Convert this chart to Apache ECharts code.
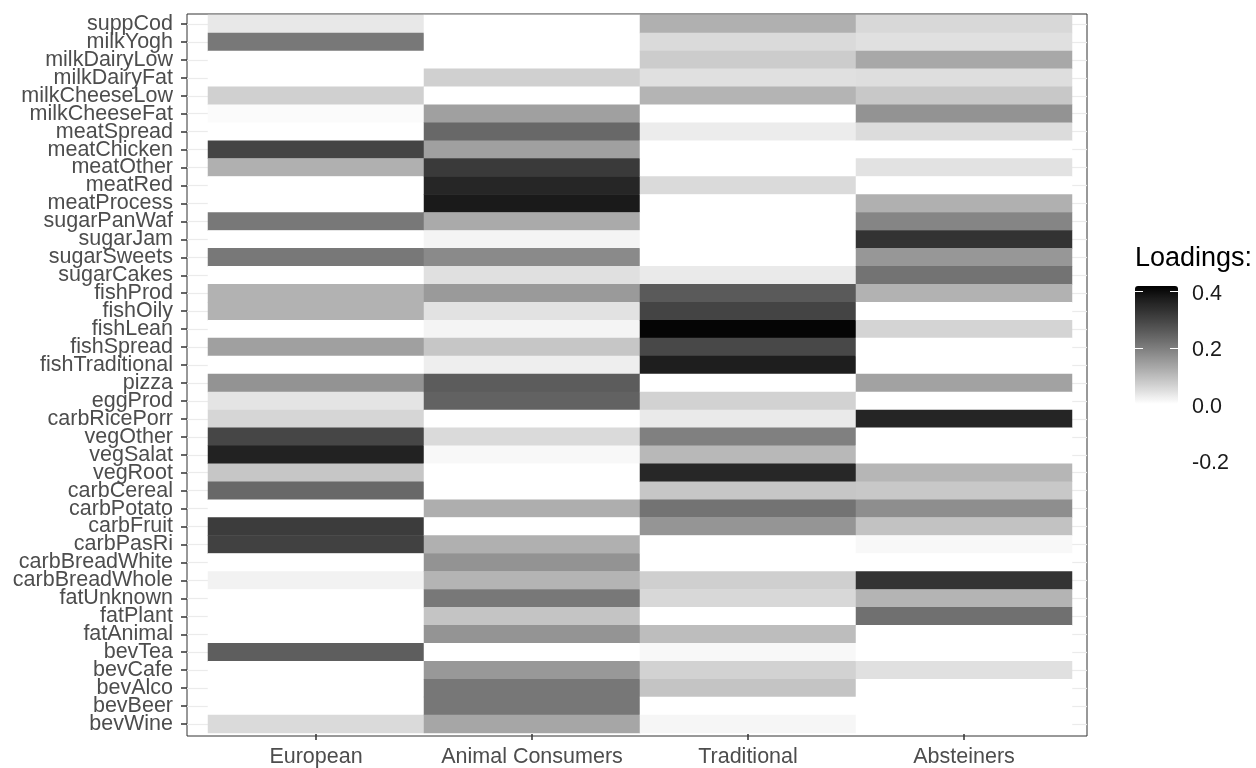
<!DOCTYPE html>
<html>
<head>
<meta charset="utf-8">
<title>Loadings heatmap</title>
<script src="https://cdn.jsdelivr.net/npm/echarts@6/dist/echarts.min.js"></script>
<style>
  html, body { margin: 0; padding: 0; background: #ffffff; }
  #chart { width: 1256px; height: 768px; }
</style>
</head>
<body>
<div id="chart"></div>
<script>
// patterns (columns) and food groups (rows, top to bottom)
var patterns = ['European', 'Animal Consumers', 'Traditional', 'Absteiners'];
var foods = ['suppCod', 'milkYogh', 'milkDairyLow', 'milkDairyFat', 'milkCheeseLow', 'milkCheeseFat',
    'meatSpread', 'meatChicken', 'meatOther', 'meatRed', 'meatProcess', 'sugarPanWaf', 'sugarJam',
    'sugarSweets', 'sugarCakes', 'fishProd', 'fishOily', 'fishLean', 'fishSpread', 'fishTraditional',
    'pizza', 'eggProd', 'carbRicePorr', 'vegOther', 'vegSalat', 'vegRoot', 'carbCereal', 'carbPotato',
    'carbFruit', 'carbPasRi', 'carbBreadWhite', 'carbBreadWhole', 'fatUnknown', 'fatPlant', 'fatAnimal',
    'bevTea', 'bevCafe', 'bevAlco', 'bevBeer', 'bevWine'];

// loadings (white cells read as 0)
var european = [0.033, 0.207, 0, 0, 0.069, 0.006, 0, 0.298, 0.117, 0, 0, 0.207, 0, 0.207, 0, 0.115, 0.115, 0, 0.143, 0,
    0.164, 0.039, 0.060, 0.294, 0.362, 0.084, 0.234, 0, 0.313, 0.303, 0, 0.019, 0, 0, 0, 0.251, 0, 0, 0, 0.054];
var animalConsumers = [0, 0, 0, 0.069, 0, 0.143, 0.234, 0.143, 0.316, 0.354, 0.378, 0.127, 0.016, 0.178, 0.045, 0.153, 0.042, 0.016, 0.084, 0.025,
    0.255, 0.244, 0, 0.054, 0.010, 0, 0, 0.121, 0, 0.117, 0.164, 0.112, 0.207, 0.087, 0.162, 0, 0.156, 0.209, 0.209, 0.133];
var traditional = [0.117, 0.054, 0.075, 0.045, 0.112, 0, 0.028, 0, 0, 0.054, 0, 0, 0, 0, 0.030, 0.258, 0.298, 0.410, 0.291, 0.370,
    0, 0.066, 0.030, 0.194, 0.105, 0.352, 0.084, 0.216, 0.161, 0, 0, 0.070, 0.057, 0, 0.097, 0.010, 0.066, 0.087, 0, 0.013];
var absteiners = [0.057, 0.045, 0.130, 0.048, 0.081, 0.164, 0.051, 0, 0.042, 0, 0.117, 0.187, 0.329, 0.158, 0.216, 0.115, 0, 0.063, 0, 0,
    0.140, 0, 0.356, 0, 0, 0.108, 0.081, 0.172, 0.090, 0.010, 0, 0.329, 0.112, 0.221, 0, 0, 0.045, 0, 0, 0];

var legendBreaks = [0.4, 0.2, 0.0, -0.2];

var FONT = '"Liberation Sans", Arial, Helvetica, sans-serif';
// white -> black, stepped evenly in lightness (like ggplot's Lab gradient)
var GRAYS = ['#ffffff', '#e2e2e2', '#c6c6c6', '#ababab', '#919191', '#777777', '#5e5e5e', '#474747', '#303030', '#1b1b1b', '#000000'];
var VM_MIN = 0, VM_MAX = 0.418;
var BAR_TOP = 286, BAR_H = 118, BAR_LEFT = 1135, BAR_W = 43;

var columns = [european, animalConsumers, traditional, absteiners];
var cells = [];
columns.forEach(function (col, x) {
    col.forEach(function (v, y) {
        cells.push([x, y, v]);
    });
});

function legendY(v) {
    return BAR_TOP + (VM_MAX - v) / (VM_MAX - VM_MIN) * BAR_H;
}

var legendGraphics = [];
legendBreaks.forEach(function (b) {
    legendGraphics.push({
        type: 'text',
        left: 1192,
        top: legendY(b) + 3 - 11,
        style: { text: b.toFixed(1), font: '21.5px ' + FONT, fill: '#1a1a1a' }
    });
    if (b <= VM_MAX && b >= VM_MIN + 0.05) {
        var y = Math.round(legendY(b)) + 0.5;
        legendGraphics.push({ type: 'line', shape: { x1: BAR_LEFT, y1: y, x2: BAR_LEFT + 8, y2: y }, style: { stroke: '#ffffff', lineWidth: 1 }, z: 10 });
        legendGraphics.push({ type: 'line', shape: { x1: BAR_LEFT + BAR_W - 8, y1: y, x2: BAR_LEFT + BAR_W, y2: y }, style: { stroke: '#ffffff', lineWidth: 1 }, z: 10 });
    }
});

var option = {
    animation: false,
    backgroundColor: '#ffffff',
    title: {
        text: 'Loadings:',
        left: 1135,
        top: 245,
        padding: 0,
        textStyle: { fontFamily: FONT, fontSize: 27, fontWeight: 'normal', color: '#000000' }
    },
    grid: [
        { left: 208, right: 184, top: 15, bottom: 33 },
        { left: 187, right: 169, top: 14, bottom: 32, show: true, borderColor: '#333333', borderWidth: 1, backgroundColor: 'transparent' }
    ],
    xAxis: [
        {
            type: 'category', gridIndex: 0, data: patterns, offset: 1,
            axisLine: { show: false },
            axisTick: { show: true, alignWithLabel: true, interval: 0, length: 6, lineStyle: { color: '#333333', width: 1.5 } },
            axisLabel: { interval: 0, margin: 12, fontFamily: FONT, fontSize: 21.5, color: '#4d4d4d' },
            splitLine: { show: false }
        },
        { type: 'value', gridIndex: 1, show: false }
    ],
    yAxis: [
        {
            type: 'category', gridIndex: 0, data: foods, inverse: true, offset: 21,
            axisLine: { show: false },
            axisTick: { show: true, alignWithLabel: true, interval: 0, length: 6, lineStyle: { color: '#333333', width: 1.5 } },
            axisLabel: { margin: 14, interval: 0, fontFamily: FONT, fontSize: 21.5, color: '#4d4d4d' },
            splitLine: { show: false }
        },
        {
            // grid line stubs left of the tiles
            type: 'category', gridIndex: 0, data: foods, inverse: true, position: 'left', offset: 0,
            axisLine: { show: false }, axisLabel: { show: false },
            axisTick: { show: true, alignWithLabel: true, length: 21, interval: 0, lineStyle: { color: '#ebebeb', width: 1.2 } }
        },
        {
            // grid line stubs right of the tiles
            type: 'category', gridIndex: 0, data: foods, inverse: true, position: 'right', offset: 0,
            axisLine: { show: false }, axisLabel: { show: false },
            axisTick: { show: true, alignWithLabel: true, length: 15, interval: 0, lineStyle: { color: '#ebebeb', width: 1.2 } }
        },
        { type: 'value', gridIndex: 1, show: false }
    ],
    visualMap: {
        type: 'continuous',
        min: VM_MIN,
        max: VM_MAX,
        dimension: 2,
        seriesIndex: 0,
        orient: 'vertical',
        left: BAR_LEFT,
        top: BAR_TOP,
        itemWidth: BAR_W,
        itemHeight: BAR_H,
        padding: 0,
        calculable: false,
        hoverLink: false,
        showLabel: false,
        text: null,
        inRange: { color: GRAYS },
        outOfRange: { color: '#ffffff' }
    },
    graphic: legendGraphics,
    series: [
        {
            type: 'heatmap',
            xAxisIndex: 0,
            yAxisIndex: 0,
            data: cells,
            itemStyle: { borderWidth: 0 },
            emphasis: { disabled: true }
        }
    ]
};

var chart = echarts.init(document.getElementById('chart'), null, { renderer: 'canvas' });
chart.setOption(option);
</script>
</body>
</html>
